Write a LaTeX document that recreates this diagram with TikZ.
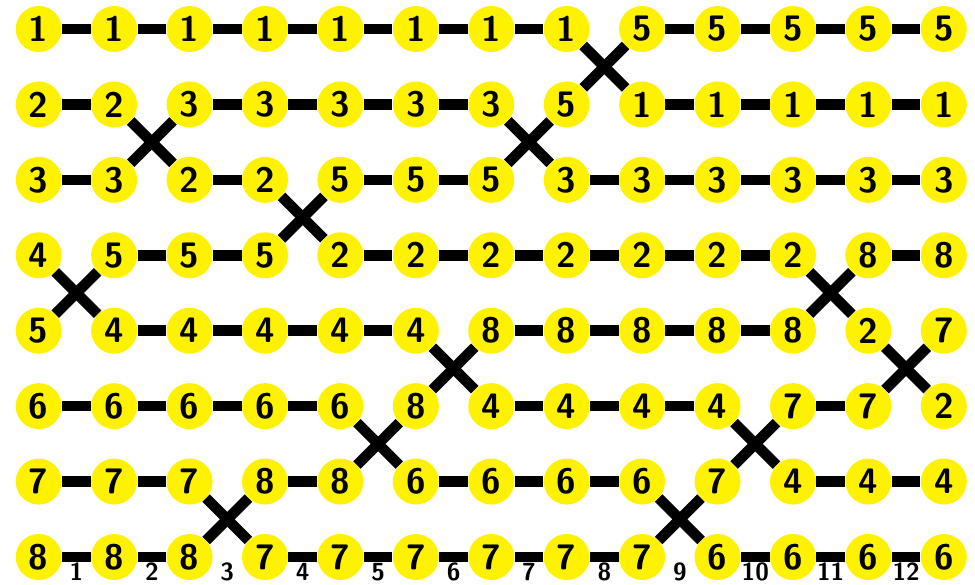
\documentclass[tikz,border=0pt]{standalone}
\usepackage{pgf, tikz}
\pgfdeclarelayer{edgelayer}
\pgfdeclarelayer{nodelayer}
\pgfsetlayers{edgelayer,nodelayer,main}
\tikzstyle{edge}=[draw=black, line width=0.21cm]
\tikzstyle{vertex}=[circle, fill=yellow, draw=none, inner sep=0pt, minimum size=0.915cm, font=\sffamily\bfseries\fontsize{20}{20}\selectfont]
\tikzstyle{swaplabel}=[inner sep=0pt, font=\sffamily\bfseries\fontsize{14}{14}\selectfont]

\begin{document}
\begin{tikzpicture}
				\useasboundingbox (-0.77, -11.04) rectangle (18.62, 0.577);
				\begin{pgfonlayer}{nodelayer}
					\node [style=vertex] (a1) at (0, 0) {1};
					\node [style=vertex] (a2) at (0, -1.5) {2};
					\node [style=vertex] (a3) at (0, -3) {3};
					\node [style=vertex] (a4) at (0, -4.5) {4};
					\node [style=vertex] (a5) at (0, -6) {5};
					\node [style=vertex] (a6) at (0, -7.5) {6};
					\node [style=vertex] (a7) at (0, -9) {7};
					\node [style=vertex] (a8) at (0, -10.5) {8};
					\node [style=vertex] (b1) at (1.5, 0) {1};
					\node [style=vertex] (b2) at (1.5, -1.5) {2};
					\node [style=vertex] (b3) at (1.5, -3) {3};
					\node [style=vertex] (b4) at (1.5, -4.5) {5};
					\node [style=vertex] (b5) at (1.5, -6) {4};
					\node [style=vertex] (b6) at (1.5, -7.5) {6};
					\node [style=vertex] (b7) at (1.5, -9) {7};
					\node [style=vertex] (b8) at (1.5, -10.5) {8};
					\node [style=vertex] (c1) at (3, 0) {1};
					\node [style=vertex] (c2) at (3, -1.5) {3};
					\node [style=vertex] (c3) at (3, -3) {2};
					\node [style=vertex] (c4) at (3, -4.5) {5};
					\node [style=vertex] (c5) at (3, -6) {4};
					\node [style=vertex] (c6) at (3, -7.5) {6};
					\node [style=vertex] (c7) at (3, -9) {7};
					\node [style=vertex] (c8) at (3, -10.5) {8};
					\node [style=vertex] (d1) at (4.5, 0) {1};
					\node [style=vertex] (d2) at (4.5, -1.5) {3};
					\node [style=vertex] (d3) at (4.5, -3) {2};
					\node [style=vertex] (d4) at (4.5, -4.5) {5};
					\node [style=vertex] (d5) at (4.5, -6) {4};
					\node [style=vertex] (d6) at (4.5, -7.5) {6};
					\node [style=vertex] (d7) at (4.5, -9) {8};
					\node [style=vertex] (d8) at (4.5, -10.5) {7};
					\node [style=vertex] (e1) at (6, 0) {1};
					\node [style=vertex] (e2) at (6, -1.5) {3};
					\node [style=vertex] (e3) at (6, -3) {5};
					\node [style=vertex] (e4) at (6, -4.5) {2};
					\node [style=vertex] (e5) at (6, -6) {4};
					\node [style=vertex] (e6) at (6, -7.5) {6};
					\node [style=vertex] (e7) at (6, -9) {8};
					\node [style=vertex] (e8) at (6, -10.5) {7};
					\node [style=vertex] (f1) at (7.5, 0) {1};
					\node [style=vertex] (f2) at (7.5, -1.5) {3};
					\node [style=vertex] (f3) at (7.5, -3) {5};
					\node [style=vertex] (f4) at (7.5, -4.5) {2};
					\node [style=vertex] (f5) at (7.5, -6) {4};
					\node [style=vertex] (f6) at (7.5, -7.5) {8};
					\node [style=vertex] (f7) at (7.5, -9) {6};
					\node [style=vertex] (f8) at (7.5, -10.5) {7};
					\node [style=vertex] (g1) at (9, 0) {1};
					\node [style=vertex] (g2) at (9, -1.5) {3};
					\node [style=vertex] (g3) at (9, -3) {5};
					\node [style=vertex] (g4) at (9, -4.5) {2};
					\node [style=vertex] (g5) at (9, -6) {8};
					\node [style=vertex] (g6) at (9, -7.5) {4};
					\node [style=vertex] (g7) at (9, -9) {6};
					\node [style=vertex] (g8) at (9, -10.5) {7};
					\node [style=vertex] (h1) at (10.5, 0) {1};
					\node [style=vertex] (h2) at (10.5, -1.5) {5};
					\node [style=vertex] (h3) at (10.5, -3) {3};
					\node [style=vertex] (h4) at (10.5, -4.5) {2};
					\node [style=vertex] (h5) at (10.5, -6) {8};
					\node [style=vertex] (h6) at (10.5, -7.5) {4};
					\node [style=vertex] (h7) at (10.5, -9) {6};
					\node [style=vertex] (h8) at (10.5, -10.5) {7};
					\node [style=vertex] (i1) at (12, 0) {5};
					\node [style=vertex] (i2) at (12, -1.5) {1};
					\node [style=vertex] (i3) at (12, -3) {3};
					\node [style=vertex] (i4) at (12, -4.5) {2};
					\node [style=vertex] (i5) at (12, -6) {8};
					\node [style=vertex] (i6) at (12, -7.5) {4};
					\node [style=vertex] (i7) at (12, -9) {6};
					\node [style=vertex] (i8) at (12, -10.5) {7};
					\node [style=vertex] (j1) at (13.5, 0) {5};
					\node [style=vertex] (j2) at (13.5, -1.5) {1};
					\node [style=vertex] (j3) at (13.5, -3) {3};
					\node [style=vertex] (j4) at (13.5, -4.5) {2};
					\node [style=vertex] (j5) at (13.5, -6) {8};
					\node [style=vertex] (j6) at (13.5, -7.5) {4};
					\node [style=vertex] (j7) at (13.5, -9) {7};
					\node [style=vertex] (j8) at (13.5, -10.5) {6};
					\node [style=vertex] (k1) at (15, 0) {5};
					\node [style=vertex] (k2) at (15, -1.5) {1};
					\node [style=vertex] (k3) at (15, -3) {3};
					\node [style=vertex] (k4) at (15, -4.5) {2};
					\node [style=vertex] (k5) at (15, -6) {8};
					\node [style=vertex] (k6) at (15, -7.5) {7};
					\node [style=vertex] (k7) at (15, -9) {4};
					\node [style=vertex] (k8) at (15, -10.5) {6};
					\node [style=vertex] (l1) at (16.5, 0) {5};
					\node [style=vertex] (l2) at (16.5, -1.5) {1};
					\node [style=vertex] (l3) at (16.5, -3) {3};
					\node [style=vertex] (l4) at (16.5, -4.5) {8};
					\node [style=vertex] (l5) at (16.5, -6) {2};
					\node [style=vertex] (l6) at (16.5, -7.5) {7};
					\node [style=vertex] (l7) at (16.5, -9) {4};
					\node [style=vertex] (l8) at (16.5, -10.5) {6};
					\node [style=vertex] (m1) at (18, 0) {5};
					\node [style=vertex] (m2) at (18, -1.5) {1};
					\node [style=vertex] (m3) at (18, -3) {3};
					\node [style=vertex] (m4) at (18, -4.5) {8};
					\node [style=vertex] (m5) at (18, -6) {7};
					\node [style=vertex] (m6) at (18, -7.5) {2};
					\node [style=vertex] (m7) at (18, -9) {4};
					\node [style=vertex] (m8) at (18, -10.5) {6};
					\node [style=swaplabel] (s1) at (0.75, -10.8) {1};
					\node [style=swaplabel] (s2) at (2.25, -10.8) {2};
					\node [style=swaplabel] (s3) at (3.75, -10.8) {3};
					\node [style=swaplabel] (s4) at (5.25, -10.8) {4};
					\node [style=swaplabel] (s5) at (6.75, -10.8) {5};
					\node [style=swaplabel] (s6) at (8.25, -10.8) {6};
					\node [style=swaplabel] (s7) at (9.75, -10.8) {7};
					\node [style=swaplabel] (s8) at (11.25, -10.8) {8};
					\node [style=swaplabel] (s9) at (12.75, -10.8) {9};
					\node [style=swaplabel] (s10) at (14.25, -10.8) {10};
					\node [style=swaplabel] (s11) at (15.75, -10.8) {11};
					\node [style=swaplabel] (s12) at (17.25, -10.8) {12};
				\end{pgfonlayer}
				\begin{pgfonlayer}{edgelayer}
					\draw [style=edge] (a1) to (b1);
					\draw [style=edge] (a2) to (b2);
					\draw [style=edge] (a3) to (b3);
					\draw [style=edge] (a4) to (b5);
					\draw [style=edge] (a5) to (b4);
					\draw [style=edge] (a6) to (b6);
					\draw [style=edge] (a7) to (b7);
					\draw [style=edge] (a8) to (b8);
					\draw [style=edge] (b1) to (c1);
					\draw [style=edge] (b2) to (c3);
					\draw [style=edge] (b3) to (c2);
					\draw [style=edge] (b4) to (c4);
					\draw [style=edge] (b5) to (c5);
					\draw [style=edge] (b6) to (c6);
					\draw [style=edge] (b7) to (c7);
					\draw [style=edge] (b8) to (c8);
					\draw [style=edge] (c1) to (d1);
					\draw [style=edge] (c2) to (d2);
					\draw [style=edge] (c3) to (d3);
					\draw [style=edge] (c4) to (d4);
					\draw [style=edge] (c5) to (d5);
					\draw [style=edge] (c6) to (d6);
					\draw [style=edge] (c7) to (d8);
					\draw [style=edge] (c8) to (d7);
					\draw [style=edge] (d1) to (e1);
					\draw [style=edge] (d2) to (e2);
					\draw [style=edge] (d3) to (e4);
					\draw [style=edge] (d4) to (e3);
					\draw [style=edge] (d5) to (e5);
					\draw [style=edge] (d6) to (e6);
					\draw [style=edge] (d7) to (e7);
					\draw [style=edge] (d8) to (e8);
					\draw [style=edge] (e1) to (f1);
					\draw [style=edge] (e2) to (f2);
					\draw [style=edge] (e3) to (f3);
					\draw [style=edge] (e4) to (f4);
					\draw [style=edge] (e5) to (f5);
					\draw [style=edge] (e6) to (f7);
					\draw [style=edge] (e7) to (f6);
					\draw [style=edge] (e8) to (f8);
					\draw [style=edge] (f1) to (g1);
					\draw [style=edge] (f2) to (g2);
					\draw [style=edge] (f3) to (g3);
					\draw [style=edge] (f4) to (g4);
					\draw [style=edge] (f5) to (g6);
					\draw [style=edge] (f6) to (g5);
					\draw [style=edge] (f7) to (g7);
					\draw [style=edge] (f8) to (g8);
					\draw [style=edge] (g1) to (h1);
					\draw [style=edge] (g2) to (h3);
					\draw [style=edge] (g3) to (h2);
					\draw [style=edge] (g4) to (h4);
					\draw [style=edge] (g5) to (h5);
					\draw [style=edge] (g6) to (h6);
					\draw [style=edge] (g7) to (h7);
					\draw [style=edge] (g8) to (h8);
					\draw [style=edge] (h1) to (i2);
					\draw [style=edge] (h2) to (i1);
					\draw [style=edge] (h3) to (i3);
					\draw [style=edge] (h4) to (i4);
					\draw [style=edge] (h5) to (i5);
					\draw [style=edge] (h6) to (i6);
					\draw [style=edge] (h7) to (i7);
					\draw [style=edge] (h8) to (i8);
					\draw [style=edge] (i1) to (j1);
					\draw [style=edge] (i2) to (j2);
					\draw [style=edge] (i3) to (j3);
					\draw [style=edge] (i4) to (j4);
					\draw [style=edge] (i5) to (j5);
					\draw [style=edge] (i6) to (j6);
					\draw [style=edge] (i7) to (j8);
					\draw [style=edge] (i8) to (j7);
					\draw [style=edge] (j1) to (k1);
					\draw [style=edge] (j2) to (k2);
					\draw [style=edge] (j3) to (k3);
					\draw [style=edge] (j4) to (k4);
					\draw [style=edge] (j5) to (k5);
					\draw [style=edge] (j6) to (k7);
					\draw [style=edge] (j7) to (k6);
					\draw [style=edge] (j8) to (k8);
					\draw [style=edge] (k1) to (l1);
					\draw [style=edge] (k2) to (l2);
					\draw [style=edge] (k3) to (l3);
					\draw [style=edge] (k4) to (l5);
					\draw [style=edge] (k5) to (l4);
					\draw [style=edge] (k6) to (l6);
					\draw [style=edge] (k7) to (l7);
					\draw [style=edge] (k8) to (l8);
					\draw [style=edge] (l1) to (m1);
					\draw [style=edge] (l2) to (m2);
					\draw [style=edge] (l3) to (m3);
					\draw [style=edge] (l4) to (m4);
					\draw [style=edge] (l5) to (m6);
					\draw [style=edge] (l6) to (m5);
					\draw [style=edge] (l7) to (m7);
					\draw [style=edge] (l8) to (m8);
				\end{pgfonlayer}
			\end{tikzpicture}
\end{document}
